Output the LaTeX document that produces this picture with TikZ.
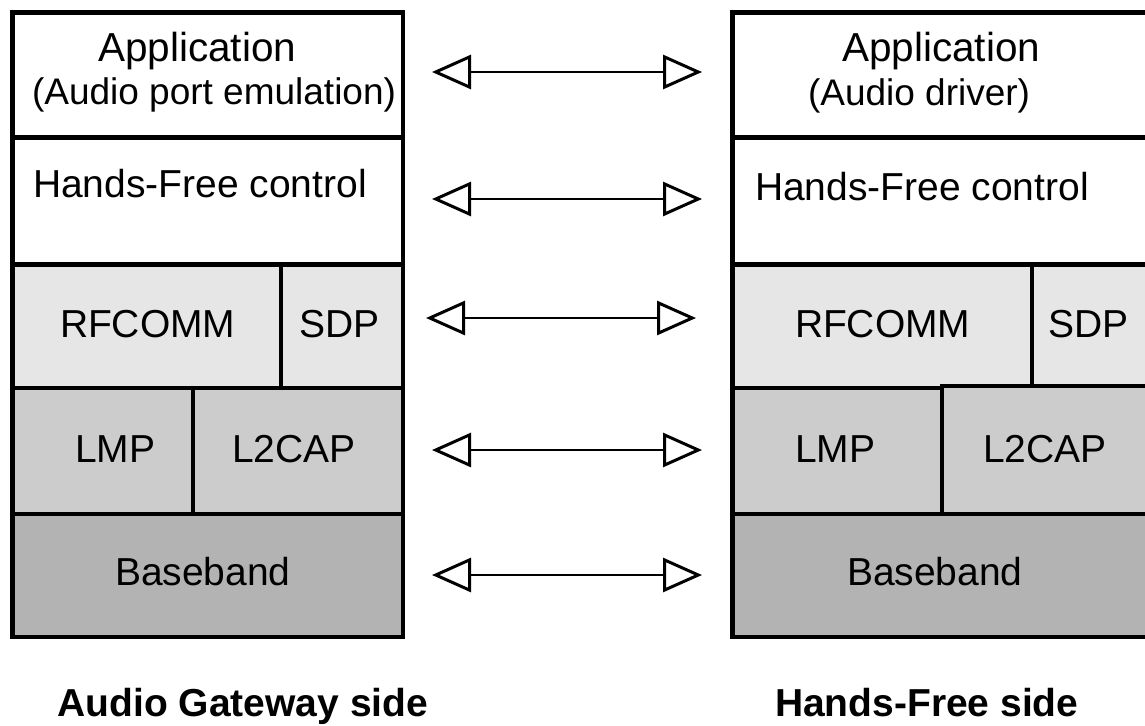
\documentclass[tikz,border=0pt]{standalone}
\usepackage{fontspec}
\setmainfont{Liberation Sans}
\usetikzlibrary{arrows.meta,fit}
\definecolor{lay1}{HTML}{E6E6E6}
\definecolor{lay2}{HTML}{CCCCCC}
\definecolor{lay3}{HTML}{B3B3B3}
\begin{document}
\begin{tikzpicture}[x=1pt,y=-1pt,
 cell/.style={draw=black, line width=4.5pt, inner sep=0pt, outer sep=0pt},
 lab/.style={anchor=base west, inner sep=0pt, outer sep=0pt, font=\fontsize{39}{44}\selectfont},
 sub/.style={lab, font=\fontsize{37}{42}\selectfont},
 big/.style={lab, font=\fontsize{40.5}{46}\selectfont},
 side/.style={lab, font=\fontsize{39}{44}\selectfont\bfseries},
 tri/.tip={Triangle[open,length=39pt,width=34pt,line width=3pt]},
 link/.style={line width=2pt, tri-tri},
]
\useasboundingbox (0,0) rectangle (1145,725);

% ---- left stack: Audio Gateway ----
\node[cell, fill=white, fit={(12.5,12.5) (403,137.5)}] (lapp) {};
\node[cell, fill=white, fit={(12.5,137.5) (403,264.5)}] (lhf) {};
\node[cell, fill=lay1, fit={(12.5,264.5) (281,388)}] (lrf) {};
\node[cell, fill=lay1, fit={(281,264.5) (403,388)}] (lsdp) {};
\node[cell, fill=lay2, fit={(12.5,388) (193,514)}] (llmp) {};
\node[cell, fill=lay2, fit={(193,388) (403,514)}] (ll2) {};
\node[cell, fill=lay3, fit={(12.5,514) (403,637)}] (lbb) {};

\node[big] (tlapp) at (98,62) {Application};
\node[sub] (tlapp2) at (32,104) {(Audio port emulation)};
\node[lab] (tlhf) at (33,197) {Hands-Free control};
\node[lab] (tlrf) at (60,337) {RFCOMM};
\node[lab] (tlsdp) at (299,337) {SDP};
\node[lab] (tllmp) at (75,462) {LMP};
\node[lab] (tll2) at (232,462) {L2CAP};
\node[lab] (tlbb) at (115,585) {Baseband};

% ---- right stack: Hands-Free ----
\node[cell, fill=white, fit={(732.5,12.5) (1170,137.5)}] (rapp) {};
\node[cell, fill=white, fit={(732.5,137.5) (1170,264.5)}] (rhf) {};
\node[cell, fill=lay1, fit={(732.5,264.5) (1032,388)}] (rrf) {};
\node[cell, fill=lay1, fit={(1032,264.5) (1170,386)}] (rsdp) {};
\node[cell, fill=lay2, fit={(732.5,388) (942,514)}] (rlmp) {};
\node[cell, fill=lay2, fit={(942,386) (1170,514)}] (rl2) {};
\node[cell, fill=lay3, fit={(732.5,514) (1170,637)}] (rbb) {};

\node[big] (trapp) at (842,62) {Application};
\node[sub] (trapp2) at (808,105) {(Audio driver)};
\node[lab] (trhf) at (755,200) {Hands-Free control};
\node[lab] (trrf) at (795,337) {RFCOMM};
\node[lab] (trsdp) at (1048,337) {SDP};
\node[lab] (trlmp) at (795,462) {LMP};
\node[lab] (trl2) at (983,462) {L2CAP};
\node[lab] (trbb) at (847,585) {Baseband};

% ---- peer arrows ----
\coordinate (a1l) at (432,72);  \coordinate (a1r) at (702,72);
\coordinate (a2l) at (432,199); \coordinate (a2r) at (702,199);
\coordinate (a3l) at (426,318); \coordinate (a3r) at (696,318);
\coordinate (a4l) at (432,450); \coordinate (a4r) at (702,450);
\coordinate (a5l) at (432,575); \coordinate (a5r) at (702,575);
\draw[link] (a1l) -- (a1r);
\draw[link] (a2l) -- (a2r);
\draw[link] (a3l) -- (a3r);
\draw[link] (a4l) -- (a4r);
\draw[link] (a5l) -- (a5r);

% ---- side captions ----
\node[side] (capl) at (57.5,716) {Audio Gateway side};
\node[side] (capr) at (775,716) {Hands-Free side};
\end{tikzpicture}
\end{document}
